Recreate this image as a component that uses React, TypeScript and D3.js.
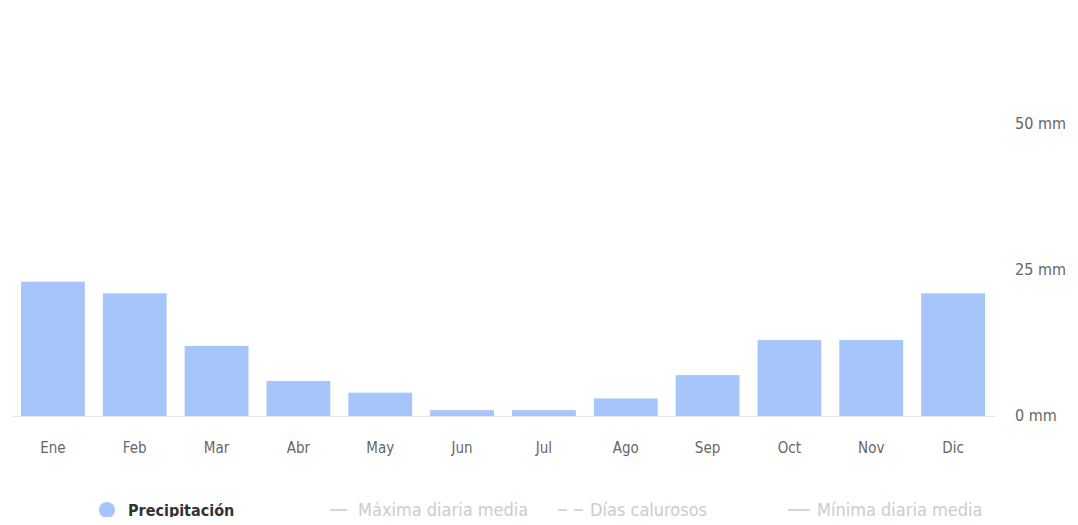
import { useRef, useEffect } from "react";
import * as d3 from "d3";

const months = ["Ene", "Feb", "Mar", "Abr", "May", "Jun", "Jul", "Ago", "Sep", "Oct", "Nov", "Dic"];
const precipitation = [23, 21, 12, 6, 4, 1, 1, 3, 7, 13, 13, 21];
const yTicks = [0, 25, 50];
const legendItems = ["Precipitación", "Máxima diaria media", "Días calurosos", "Mínima diaria media"];

const W = 1078;
const H = 525;
const FONT = "'Liberation Sans Narrow', 'DejaVu Sans Condensed', 'Open Sans', sans-serif";

const App = () => {
  const svgRef = useRef<SVGSVGElement | null>(null);

  useEffect(() => {
    const svg = d3.select(svgRef.current);
    svg.selectAll("*").remove();

    const x = d3.scaleBand<string>().domain(months).range([12, 994]).paddingInner(0.22).paddingOuter(0.11);
    const y = d3.scaleLinear().domain([0, 50]).range([416, 124]);

    const g = svg.append("g");

    // baseline
    g.append("line")
      .attr("x1", 12)
      .attr("x2", 995)
      .attr("y1", y(0) + 0.5)
      .attr("y2", y(0) + 0.5)
      .attr("stroke", "#e6e6e6");

    g.selectAll("rect.bar")
      .data(precipitation)
      .join("rect")
      .attr("class", "bar")
      .attr("x", (_, i) => x(months[i])!)
      .attr("width", x.bandwidth())
      .attr("y", (d) => y(d))
      .attr("height", (d) => y(0) - y(d))
      .attr("fill", "#a5c5fb");

    // month labels
    g.selectAll("text.month")
      .data(months)
      .join("text")
      .attr("class", "month")
      .attr("x", (d) => x(d)! + x.bandwidth() / 2)
      .attr("y", 453)
      .attr("text-anchor", "middle")
      .attr("font-family", FONT)
      .attr("font-size", 15)
      .attr("fill", "#666")
      .text((d) => d);

    // y tick labels
    g.selectAll("text.ytick")
      .data(yTicks)
      .join("text")
      .attr("class", "ytick")
      .attr("x", 1015)
      .attr("y", (d) => y(d) + 5)
      .attr("font-family", FONT)
      .attr("font-size", 16)
      .attr("fill", "#666")
      .text((d) => `${d} mm`);

    // legend
    const legendX = [128, 358, 590, 817];
    const lg = g.append("g");
    lg.append("circle").attr("cx", 107).attr("cy", 510).attr("r", 8).attr("fill", "#a5c5fb");
    lg.append("line")
      .attr("x1", 330).attr("x2", 347).attr("y1", 510).attr("y2", 510)
      .attr("stroke", "#d6d6d6").attr("stroke-width", 2);
    lg.append("line")
      .attr("x1", 558).attr("x2", 585).attr("y1", 510).attr("y2", 510)
      .attr("stroke", "#d6d6d6").attr("stroke-width", 2).attr("stroke-dasharray", "9,7");
    lg.append("line")
      .attr("x1", 788).attr("x2", 810).attr("y1", 510).attr("y2", 510)
      .attr("stroke", "#d6d6d6").attr("stroke-width", 2);

    lg.selectAll("text")
      .data(legendItems)
      .join("text")
      .attr("x", (_, i) => legendX[i])
      .attr("y", 516)
      .attr("font-family", FONT)
      .attr("font-size", (_, i) => (i === 0 ? 16 : 18))
      .attr("font-weight", (_, i) => (i === 0 ? "bold" : "normal"))
      .attr("fill", (_, i) => (i === 0 ? "#333" : "#cccccc"))
      .text((d) => d);
  }, []);

  return (
    <div style={{ width: W, height: H, margin: "-8px", overflow: "hidden" }}>
      <svg ref={svgRef} width={W} height={H} style={{ display: "block", background: "#fff" }} />
    </div>
  );
};

export default App;
